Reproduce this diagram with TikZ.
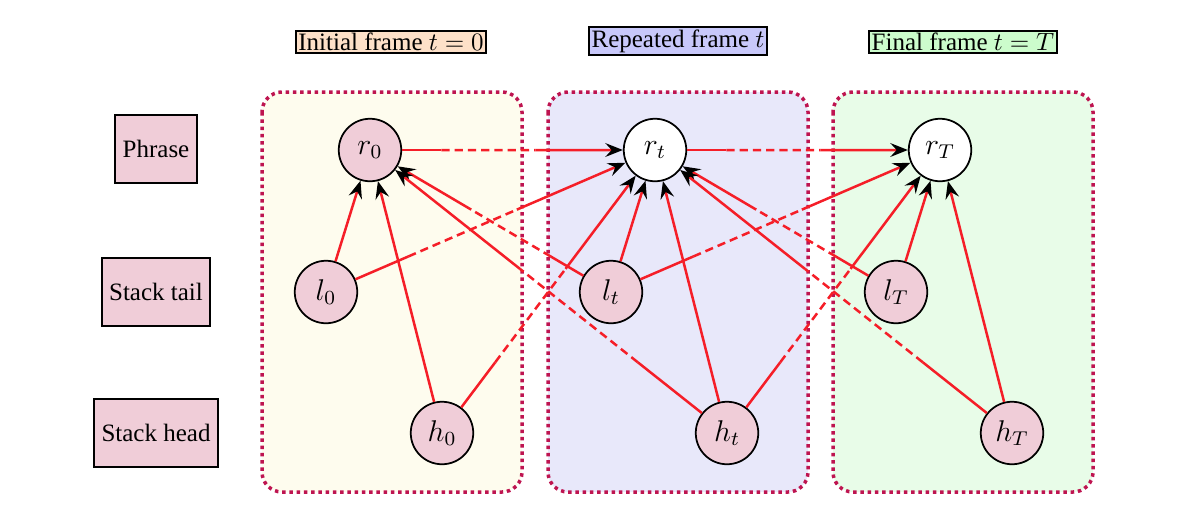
\documentclass[tikz,border=0pt]{standalone}
\usepackage{amsmath,amssymb}
\usepackage{fontspec}
\setmainfont{Liberation Serif}
\usepackage{tikz}
\usetikzlibrary{
	positioning,
	arrows.meta,
	calc
}

\definecolor{nodepink}{RGB}{240,205,216}
\definecolor{linkred}{RGB}{245,30,40}
\definecolor{framedot}{RGB}{190,20,80}
\definecolor{ivory}{RGB}{254,252,238}
\definecolor{lavender}{RGB}{232,232,250}
\definecolor{mint}{RGB}{232,252,232}
\definecolor{peach}{RGB}{253,224,200}
\definecolor{lilac}{RGB}{200,200,250}
\definecolor{palegreen}{RGB}{204,252,204}

\tikzset{
	var/.style={circle,draw,line width=0.7pt,fill=nodepink,minimum size=25pt,inner sep=0pt,font=\large},
	phrasevar/.style={var,fill=white},
	rowlabel/.style={draw,line width=0.8pt,fill=nodepink,minimum height=27pt,inner xsep=3pt},
	title/.style={draw,line width=0.8pt,inner sep=1pt},
	frame/.style={line width=1.4pt,draw=framedot,dash pattern=on 1.4pt off 1.5pt,rounded corners=8pt},
	link/.style={draw=linkred,line width=1pt},
	tip/.style={-{Stealth[black,length=7pt,width=5.5pt,inset=2.5pt]}}
}

\begin{document}
\begin{tikzpicture}[x=0.4pt,y=-0.4pt,node distance=114pt]
	\useasboundingbox (0,0) rectangle (1192,514);

	% frames
	\draw[frame,fill=ivory]    (262,92) rectangle (522,492);
	\draw[frame,fill=lavender] (548,92) rectangle (808,492);
	\draw[frame,fill=mint]     (833,92) rectangle (1093,492);

	\node[title,fill=peach]     (t0) at (391,42) {Initial frame $t=0$};
	\node[title,fill=lilac]     (tt) at (678,41) {Repeated frame $t$};
	\node[title,fill=palegreen] (tT) at (963,42) {Final frame $t=T$};

	\node[rowlabel] (phrase) at (156,149) {Phrase};
	\node[rowlabel] (tail)   at (156,292) {Stack tail};
	\node[rowlabel] (head)   at (156,433) {Stack head};

	\draw
		node [var] at (370,150)       (r0) {$r_0$}
		node [phrasevar,right of=r0]  (rt) {$r_t$}
		node [phrasevar,right of=rt]  (rT) {$r_T$}
		node [var] at (326,292)       (l0) {$l_0$}
		node [var,right of=l0]        (lt) {$l_t$}
		node [var,right of=lt]        (lT) {$l_T$}
		node [var] at (442,433)       (h0) {$h_0$}
		node [var,right of=h0]        (ht) {$h_t$}
		node [var,right of=ht]        (hT) {$h_T$}
	;

	% links inside a frame
	\foreach \f in {0,t,T} {
		\draw[link,tip] (l\f) -- (r\f);
		\draw[link,tip] (h\f) -- (r\f);
	}

	% links between frames
	\foreach \a/\b in {r0/rt,rt/rT,l0/rt,h0/rt,lt/r0,ht/r0,lt/rT,ht/rT,lT/rt,hT/rt} {
		\draw[link] (\a) -- ($(\a)!0.25!(\b)$);
		\draw[link,dash pattern=on 3.3pt off 2pt] ($(\a)!0.25!(\b)$) -- ($(\a)!0.58!(\b)$);
		\draw[link,tip] ($(\a)!0.58!(\b)$) -- (\b);
	}
\end{tikzpicture}
\end{document}
